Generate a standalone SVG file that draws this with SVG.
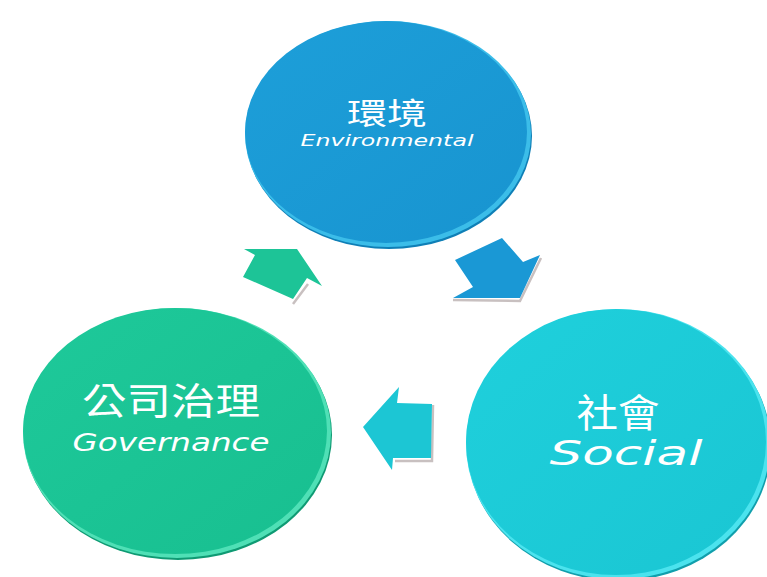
<svg xmlns="http://www.w3.org/2000/svg" width="767" height="577" viewBox="0 0 767 577">
<style>
.cjk{font-family:"Noto Sans CJK TC","Noto Sans CJK SC",sans-serif;fill:#ffffff;text-anchor:middle;font-weight:400}
.en{font-family:"DejaVu Sans","Liberation Sans",sans-serif;font-style:italic;fill:#ffffff;text-anchor:middle}
.shadow{fill:none;stroke:#c8c0c0;stroke-width:2.5}
</style>
<defs>
<linearGradient id="gBlue" x1="0" y1="0" x2="1" y2="1">
<stop offset="0" stop-color="#1d9fd9"/><stop offset="1" stop-color="#1894d0"/>
</linearGradient>
<linearGradient id="gGreen" x1="0" y1="0" x2="1" y2="1">
<stop offset="0" stop-color="#1ec99a"/><stop offset="1" stop-color="#18bf90"/>
</linearGradient>
<linearGradient id="gCyan" x1="0" y1="0" x2="1" y2="1">
<stop offset="0" stop-color="#1fd0dc"/><stop offset="1" stop-color="#1ac6d3"/>
</linearGradient>
</defs>
<rect width="767" height="577" fill="#ffffff"/>
<g id="connectors">
<polyline class="shadow" points="293,304 308,284"/>
<polygon points="244,249 297,249 322,286 307,278 293,299 243,277 255,255" fill="#1dc497"/>
<polyline class="shadow" points="453,300 520,301 541,258"/>
<polygon points="502,238 523,262 540,255 520,298 453,298 473,287 455,260" fill="#1a98d5"/>
<polyline class="shadow" points="395,461 432,461 433,405"/>
<polygon points="363,427 399,387 397,403 432,404 431,458 393,458 392,470" fill="#1cc6d4"/>
</g>
<g id="node-environmental">
<ellipse cx="389" cy="136" rx="143" ry="113" fill="#0f7fb6"/>
<ellipse cx="388" cy="134" rx="143" ry="113" fill="#3bbde9"/>
<ellipse cx="386" cy="132" rx="141" ry="111" fill="url(#gBlue)"/>
<text class="cjk" x="387" y="124" font-size="30" textLength="80" lengthAdjust="spacingAndGlyphs">環境</text>
<text class="en" x="387" y="146" font-size="15" textLength="173" lengthAdjust="spacingAndGlyphs">Environmental</text>
</g>
<g id="node-governance">
<ellipse cx="178" cy="435" rx="154" ry="125" fill="#0f9a73"/>
<ellipse cx="177" cy="433" rx="154" ry="125" fill="#4fe0b6"/>
<ellipse cx="175" cy="431" rx="152" ry="123" fill="url(#gGreen)"/>
<text class="cjk" x="171" y="415" font-size="37" textLength="178" lengthAdjust="spacingAndGlyphs">公司治理</text>
<text class="en" x="171" y="451" font-size="24" textLength="197" lengthAdjust="spacingAndGlyphs">Governance</text>
</g>
<g id="node-social">
<ellipse cx="619" cy="446" rx="152" ry="135" fill="#119fac"/>
<ellipse cx="618" cy="444" rx="152" ry="135" fill="#4be3ee"/>
<ellipse cx="616" cy="442" rx="150" ry="133" fill="url(#gCyan)"/>
<text class="cjk" x="618" y="427" font-size="39" textLength="83" lengthAdjust="spacingAndGlyphs">社會</text>
<text class="en" x="626" y="465" font-size="34" textLength="153" lengthAdjust="spacingAndGlyphs">Social</text>
</g>
</svg>
